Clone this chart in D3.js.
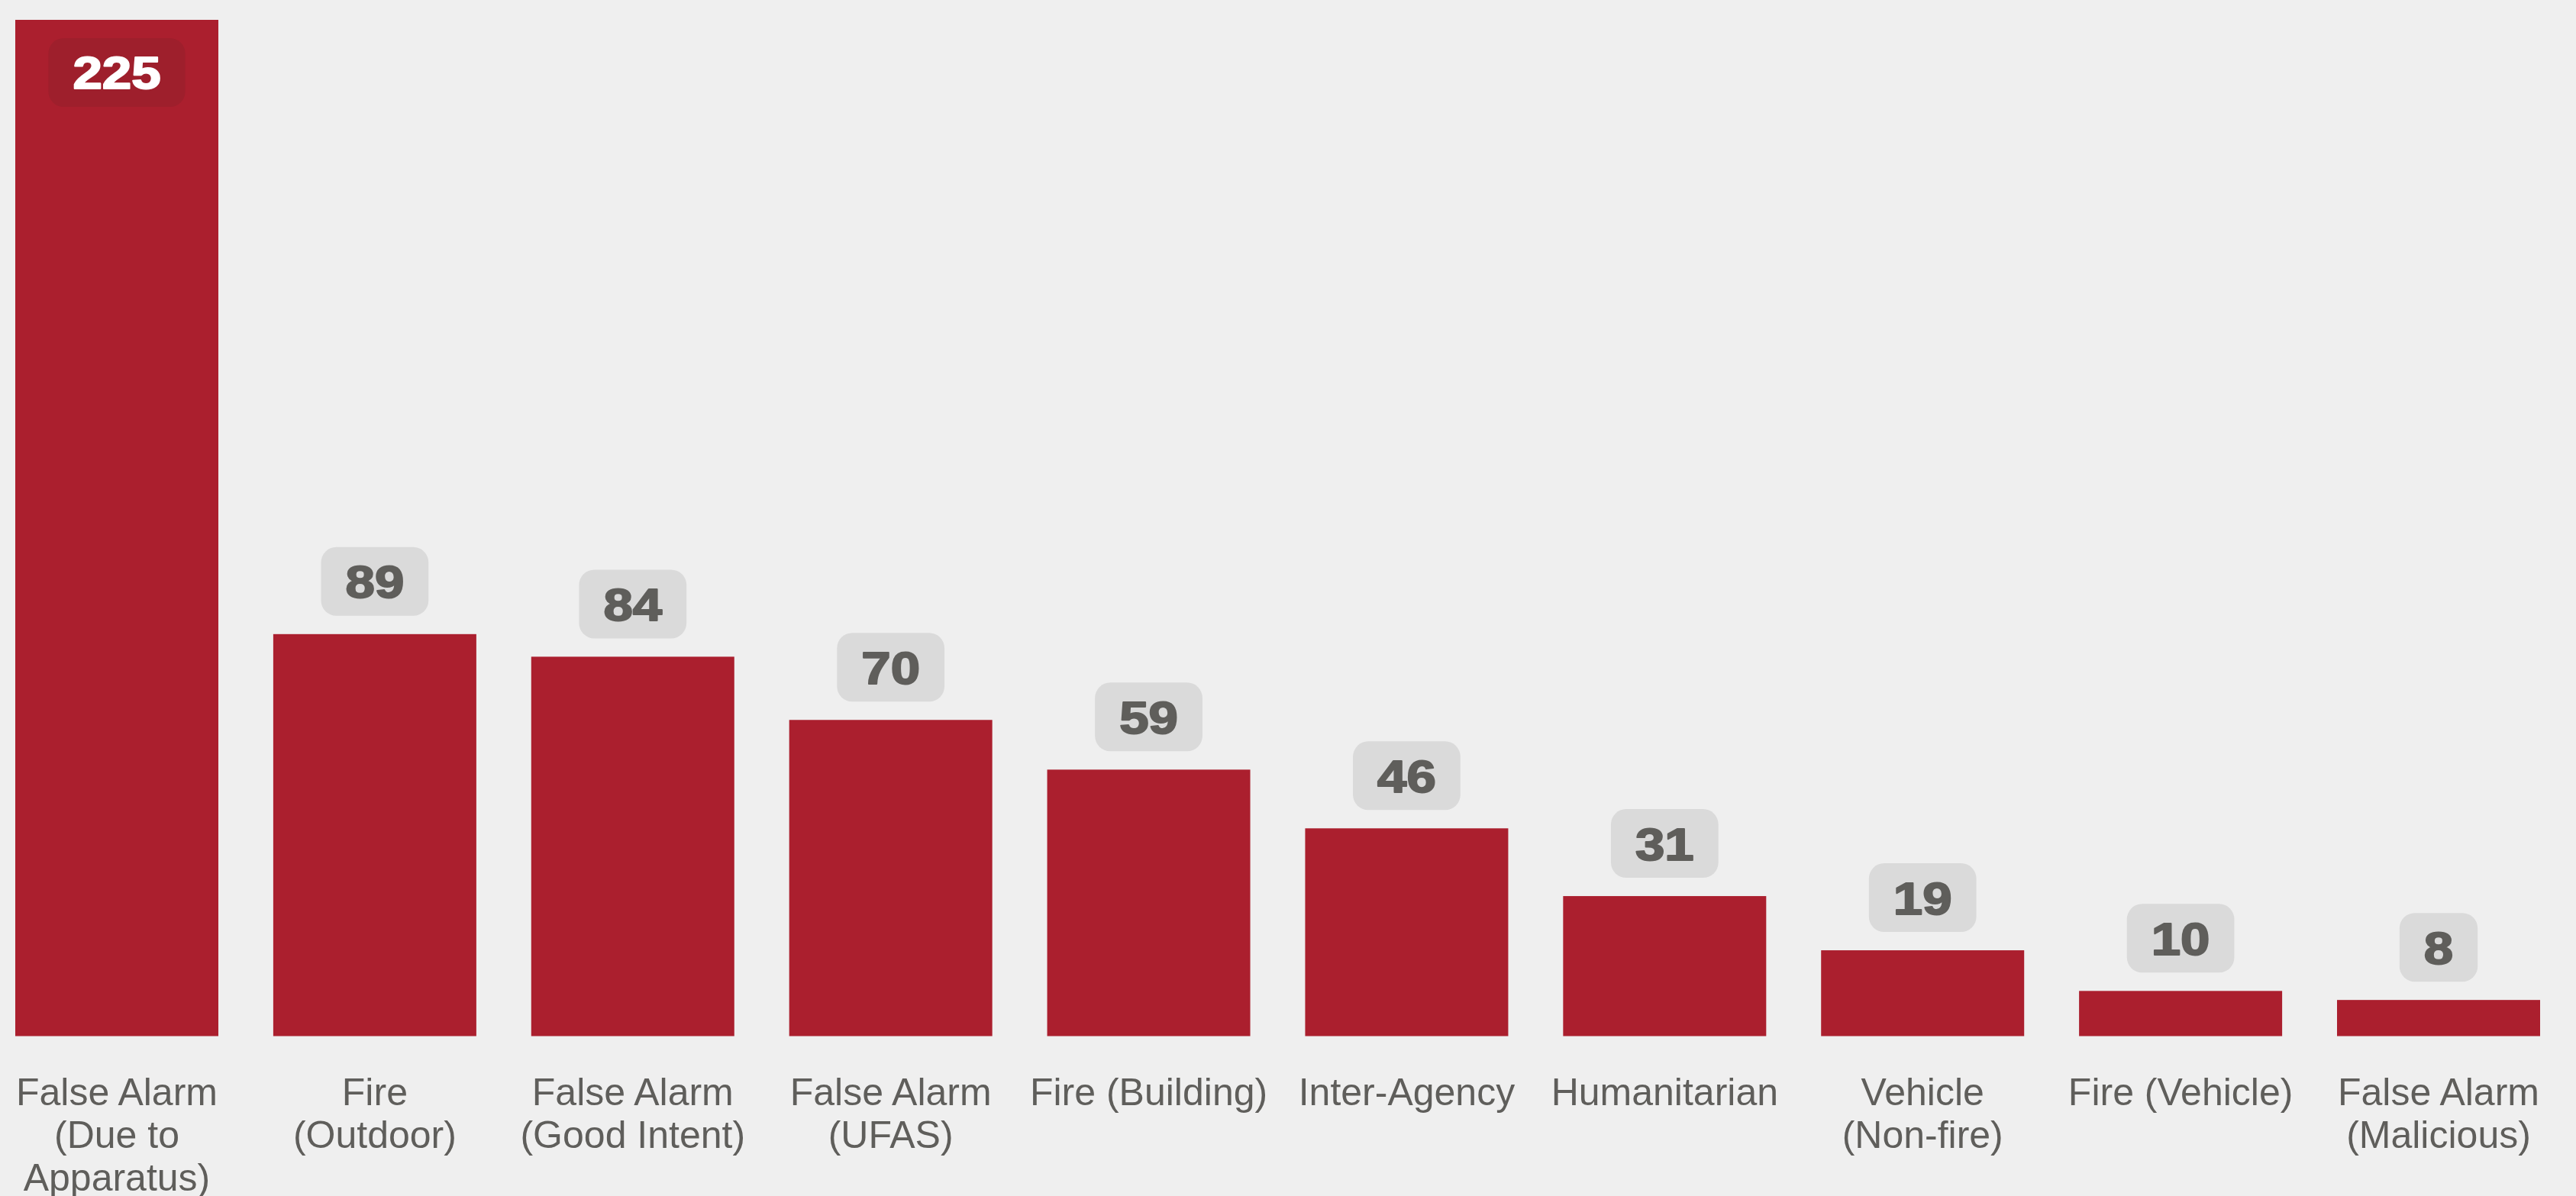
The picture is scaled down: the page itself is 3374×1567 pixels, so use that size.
<!DOCTYPE html>
<html>
<head>
<meta charset="utf-8">
<script src="https://cdn.jsdelivr.net/npm/d3@7"></script>
<style>
  html, body { margin: 0; padding: 0; background: #efefef; }
  svg { display: block; }
</style>
</head>
<body>
<svg id="chart" width="3374" height="1567"></svg>
<script>
const categories = [
  "False Alarm (Due to Apparatus)",
  "Fire (Outdoor)",
  "False Alarm (Good Intent)",
  "False Alarm (UFAS)",
  "Fire (Building)",
  "Inter-Agency",
  "Humanitarian",
  "Vehicle (Non-fire)",
  "Fire (Vehicle)",
  "False Alarm (Malicious)"
];
const values = [225, 89, 84, 70, 59, 46, 31, 19, 10, 8];
const tickLabels = [
  ["False Alarm", "(Due to", "Apparatus)"],
  ["Fire", "(Outdoor)"],
  ["False Alarm", "(Good Intent)"],
  ["False Alarm", "(UFAS)"],
  ["Fire (Building)"],
  ["Inter-Agency"],
  ["Humanitarian"],
  ["Vehicle", "(Non-fire)"],
  ["Fire (Vehicle)"],
  ["False Alarm", "(Malicious)"]
];

const W = 3374, H = 1567;
const svg = d3.select("#chart");
svg.append("rect").attr("width", W).attr("height", H).attr("fill", "#efefef");

const x = d3.scaleBand()
  .domain(categories)
  .range([20, 3327])
  .paddingInner(0.2128)
  .paddingOuter(0);

const y = d3.scaleLinear()
  .domain([0, 225])
  .range([1357.5, 26]);

const data = categories.map((c, i) => ({ cat: c, value: values[i], lines: tickLabels[i] }));

// bars
svg.append("g").selectAll("rect")
  .data(data)
  .join("rect")
  .attr("x", d => x(d.cat))
  .attr("y", d => y(d.value))
  .attr("width", x.bandwidth())
  .attr("height", d => y(0) - y(d.value))
  .attr("fill", "#ab1f2e");

// value labels
const fs = 60, sx = 1.15, boxH = 90, gap = 24, padX = 32;
const lab = svg.append("g");
data.forEach(d => {
  const cx = x(d.cat) + x.bandwidth() / 2;
  const inside = (y(d.value) - gap - boxH) < 0;
  const boxTop = inside ? y(d.value) + gap : y(d.value) - gap - boxH;
  const g = lab.append("g");
  const rect = g.append("rect")
    .attr("fill", inside ? "#9e1f2c" : "#dadada")
    .attr("rx", 20).attr("ry", 20);
  const col = inside ? "#ffffff" : "#5f5e5b";
  const t = g.append("text")
    .attr("text-anchor", "middle")
    .attr("font-family", "'Liberation Sans', Arial, sans-serif")
    .attr("font-weight", "bold")
    .attr("font-size", fs)
    .attr("fill", col)
    .attr("stroke", col)
    .attr("stroke-width", 2)
    .attr("stroke-linejoin", "round")
    .attr("transform", `translate(${cx},${boxTop + boxH / 2 + 0.358 * fs}) scale(${sx},1)`)
    .text(d.value);
  const tw = t.node().getComputedTextLength() * sx;
  const bw = tw + padX * 2;
  rect.attr("x", cx - bw / 2).attr("y", boxTop).attr("width", bw).attr("height", boxH);
});

// category labels
const axisG = svg.append("g");
data.forEach(d => {
  const cx = x(d.cat) + x.bandwidth() / 2;
  const t = axisG.append("text")
    .attr("text-anchor", "middle")
    .attr("font-family", "'Liberation Sans', Arial, sans-serif")
    .attr("font-size", 50)
    .attr("fill", "#5f5e5b");
  d.lines.forEach((ln, j) => {
    t.append("tspan").attr("x", cx).attr("y", 1448 + j * 56).text(ln);
  });
});
</script>
</body>
</html>
